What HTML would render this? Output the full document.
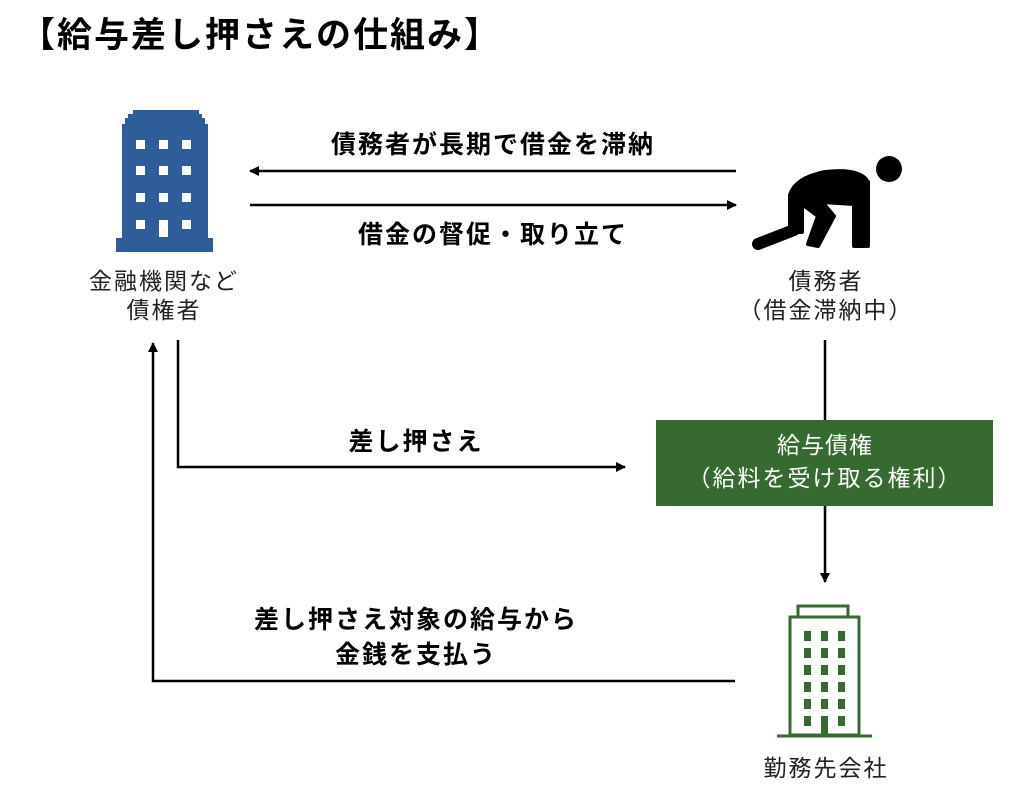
<!DOCTYPE html>
<html><head><meta charset="utf-8"><style>
html,body{margin:0;padding:0;background:#fff;}
svg{display:block;}
text{font-family:"Liberation Sans","Noto Sans CJK JP",sans-serif;fill:#000;}
.b{font-weight:bold;font-size:25px;letter-spacing:2px;}
.n{font-size:23px;fill:#222;letter-spacing:2px;}
</style></head><body>
<svg width="1023" height="801" viewBox="0 0 1023 801">
<defs>
<marker id="ah" markerWidth="10" markerHeight="10" refX="9" refY="5" orient="auto" markerUnits="userSpaceOnUse" viewBox="0 0 10 10">
<path d="M0,0 L10,5 L0,10 z" fill="#000"/></marker>
</defs>
<text x="20" y="47" font-size="35" font-weight="bold" letter-spacing="2">【給与差し押さえの仕組み】</text>

<g fill="#2f5d9a">
<path d="M133,110 H199 V114 H202 V118 H205 V124 H208 V238 H213 V252 H116 V238 H122 V124 H125 V118 H128 V114 H133 Z"/>
</g>
<g fill="#fff">
<rect x="136" y="140" width="9" height="9"/><rect x="159" y="140" width="9" height="9"/><rect x="182" y="140" width="9" height="9"/>
<rect x="136" y="166" width="9" height="9"/><rect x="159" y="166" width="9" height="9"/><rect x="182" y="166" width="9" height="9"/>
<rect x="136" y="193" width="9" height="9"/><rect x="159" y="193" width="9" height="9"/><rect x="182" y="193" width="9" height="9"/>
<rect x="136" y="220" width="9" height="9"/><rect x="159" y="220" width="9" height="17"/><rect x="182" y="220" width="9" height="9"/>
</g>
<text class="n" x="164" y="289" text-anchor="middle">金融機関など</text>
<text class="n" x="164" y="318" text-anchor="middle">債権者</text>

<g fill="#000" stroke="#000" stroke-linecap="round" stroke-linejoin="round">
<circle cx="889" cy="169" r="13" stroke="none"/>
<path d="M790,232 L790,195 Q795,178 825,172 Q860,168 868,182 L868,246 L854,246 L854,204 L822,202 L834,216 L818,246 L808,244 L818,216 L802,204 L802,232 Z" stroke-width="4"/>
<path d="M794,230 L758,244" stroke-width="12" fill="none"/>
</g>
<text class="n" x="826" y="289" text-anchor="middle">債務者</text>
<text class="n" x="826" y="318" text-anchor="middle">（借金滞納中）</text>

<line x1="736" y1="171" x2="250" y2="171" stroke="#000" stroke-width="2.5" marker-end="url(#ah)"/>
<line x1="250" y1="205" x2="736" y2="205" stroke="#000" stroke-width="2.5" marker-end="url(#ah)"/>
<text class="b" x="493" y="153" text-anchor="middle">債務者が長期で借金を滞納</text>
<text class="b" x="493" y="243" text-anchor="middle">借金の督促・取り立て</text>

<polyline points="178,340 178,467 625,467" fill="none" stroke="#000" stroke-width="2.5" marker-end="url(#ah)"/>
<text class="b" x="416" y="450" text-anchor="middle">差し押さえ</text>
<polyline points="735,681 153,681 153,343" fill="none" stroke="#000" stroke-width="2.5" marker-end="url(#ah)"/>
<text class="b" x="416" y="628" text-anchor="middle">差し押さえ対象の給与から</text>
<text class="b" x="416" y="663" text-anchor="middle">金銭を支払う</text>

<line x1="825" y1="340" x2="825" y2="420" stroke="#000" stroke-width="2.5"/>
<line x1="825" y1="506" x2="825" y2="582" stroke="#000" stroke-width="2.5" marker-end="url(#ah)"/>

<rect x="656" y="420" width="337" height="86" fill="#366a30"/>
<text x="825" y="453" text-anchor="middle" font-size="23" letter-spacing="1" style="fill:#fff">給与債権</text>
<text x="825" y="486" text-anchor="middle" font-size="23" letter-spacing="2" style="fill:#fff">（給料を受け取る権利）</text>

<g fill="none" stroke="#366a30" stroke-width="3">
<rect x="798" y="606" width="50" height="11"/>
<rect x="790" y="617" width="69" height="118"/>
<line x1="777" y1="736" x2="872" y2="736"/>
</g>
<g fill="#366a30">
<rect x="804" y="631" width="7" height="10"/><rect x="821" y="631" width="7" height="10"/><rect x="838" y="631" width="7" height="10"/>
<rect x="804" y="648" width="7" height="10"/><rect x="821" y="648" width="7" height="10"/><rect x="838" y="648" width="7" height="10"/>
<rect x="804" y="665" width="7" height="10"/><rect x="821" y="665" width="7" height="10"/><rect x="838" y="665" width="7" height="10"/>
<rect x="804" y="682" width="7" height="10"/><rect x="821" y="682" width="7" height="10"/><rect x="838" y="682" width="7" height="10"/>
<rect x="804" y="699" width="7" height="10"/><rect x="821" y="699" width="7" height="10"/><rect x="838" y="699" width="7" height="10"/>
<rect x="804" y="716" width="7" height="10"/><rect x="821" y="716" width="7" height="20"/><rect x="838" y="716" width="7" height="10"/>
</g>
<text class="n" x="826" y="776" text-anchor="middle">勤務先会社</text>
</svg>
</body></html>
